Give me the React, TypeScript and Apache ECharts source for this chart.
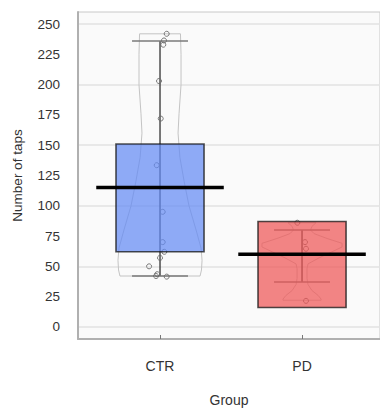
import React, { useEffect, useRef } from "react";
import * as echarts from "echarts";

// ---- data ----
const categories = ["CTR", "PD"];
const groupX = [1, 2];
const boxLow = [62, 16];
const boxHigh = [151, 87];
const means = [115, 60];
const errLow = [42, 37];
const errHigh = [236, 80];

const ctrPoints = [242, 236.5, 233, 203, 172, 133.5, 95, 70, 62, 57, 50, 43.5, 42, 41.5];
const ctrJitter = [0.047, 0.028, 0.023, -0.007, 0.005, -0.023, 0.019, 0.019, 0.030, 0, -0.077, -0.020, -0.028, 0.047];
const pdPoints = [86, 70, 64.5, 21.5];
const pdJitter = [-0.033, 0.021, 0.028, 0.028];

const ctrViolinY = [242, 225, 200, 176, 160, 140, 120, 100, 80, 65, 55, 47, 42];
const ctrViolinW = [0.144, 0.148, 0.148, 0.134, 0.127, 0.14, 0.17, 0.204, 0.254, 0.289, 0.296, 0.292, 0.282];
const pdViolinY = [86, 83, 80, 77, 73, 69, 66, 62, 57, 52, 48, 40, 35, 30, 26, 23, 22];
const pdViolinW = [0.099, 0.07, 0.06, 0.085, 0.176, 0.282, 0.282, 0.211, 0.12, 0.042, 0.035, 0.035, 0.042, 0.07, 0.113, 0.134, 0.134];

const yTickLabels = [0, 25, 50, 75, 100, 125, 150, 175, 200, 225, 250];
const yGridValues = [0, 50, 100, 150, 200, 250];

const boxFill = ["rgba(100,138,244,0.72)", "rgba(238,86,86,0.72)"];
const FONT = "Liberation Sans, Arial, sans-serif";

const BOX_HALF = 0.31;
const CAP_HALF = 0.197;
const MEAN_HALF = 0.449;

export default function App() {
  const ref = useRef<HTMLDivElement>(null);
  useEffect(() => {
    if (!ref.current) return;
    const chart = echarts.init(ref.current, null, { renderer: "svg" });
    const violins = [
      { y: ctrViolinY, w: ctrViolinW },
      { y: pdViolinY, w: pdViolinW },
    ];
    const option: any = {
      animation: false,
      backgroundColor: "#ffffff",
      textStyle: { fontFamily: FONT },
      grid: {
        left: 78,
        top: 12,
        right: 0,
        bottom: 71,
        show: true,
        outerBoundsMode: "none",
        containLabel: false,
        backgroundColor: "#fafafa",
        borderColor: "#c8c8c8",
        borderWidth: 1,
      },
      xAxis: {
        type: "value",
        min: 0.4225,
        max: 2.549,
        name: "Group",
        nameLocation: "middle",
        nameGap: 54,
        nameTextStyle: { fontSize: 14, color: "#333", fontFamily: FONT },
        axisLine: { show: true, onZero: false, lineStyle: { color: "#b0b0b0", width: 2 } },
        axisTick: { show: true, inside: true, length: 4, customValues: groupX, lineStyle: { color: "#777" } },
        axisLabel: {
          customValues: groupX,
          formatter: (v: number) => categories[groupX.indexOf(Math.round(v))] ?? "",
          fontSize: 14,
          color: "#333",
          margin: 20,
          fontFamily: FONT,
        },
        splitLine: { show: false },
      },
      yAxis: {
        type: "value",
        min: -10,
        max: 260,
        name: "Number of taps",
        nameLocation: "middle",
        nameGap: 54,
        nameTextStyle: { fontSize: 13.5, color: "#333", fontFamily: FONT },
        axisLine: { show: true, onZero: false, lineStyle: { color: "#b0b0b0", width: 2 } },
        axisTick: { show: false, customValues: yGridValues },
        axisLabel: { customValues: yTickLabels, fontSize: 13.5, color: "#333", margin: 18, fontFamily: FONT },
        splitLine: { show: true, lineStyle: { color: "#e2e2e2", width: 1.5 } },
      },
      series: [
        {
          type: "custom",
          name: "violin",
          z: 1,
          data: groupX.map((x, i) => [x, i]),
          renderItem: (params: any, api: any) => {
            const x = api.value(0);
            const v = violins[api.value(1)];
            const right = v.y.map((yy, k) => api.coord([x + v.w[k], yy]));
            const left = v.y.map((yy, k) => api.coord([x - v.w[k], yy])).reverse();
            return {
              type: "polygon",
              shape: { points: right.concat(left) },
              style: { fill: "none", stroke: "#c4c4c4", lineWidth: 1 },
            };
          },
        },
        {
          type: "custom",
          name: "errorbar",
          z: 2,
          data: groupX.map((x, i) => [x, errLow[i], errHigh[i]]),
          renderItem: (params: any, api: any) => {
            const x = api.value(0);
            const lo = api.coord([x, api.value(1)]);
            const hi = api.coord([x, api.value(2)]);
            const loL = api.coord([x - CAP_HALF, api.value(1)]);
            const loR = api.coord([x + CAP_HALF, api.value(1)]);
            const hiL = api.coord([x - CAP_HALF, api.value(2)]);
            const hiR = api.coord([x + CAP_HALF, api.value(2)]);
            return {
              type: "group",
              children: [
                { type: "line", shape: { x1: lo[0], y1: lo[1], x2: hi[0], y2: hi[1] }, style: { stroke: "#333", lineWidth: 1.3 } },
                { type: "line", shape: { x1: loL[0], y1: loL[1], x2: loR[0], y2: loR[1] }, style: { stroke: "#7a7a7a", lineWidth: 1.5 } },
                { type: "line", shape: { x1: hiL[0], y1: hiL[1], x2: hiR[0], y2: hiR[1] }, style: { stroke: "#7a7a7a", lineWidth: 1.5 } },
              ],
            };
          },
        },
        {
          type: "scatter",
          name: "points",
          z: 3,
          symbol: "circle",
          symbolSize: 5,
          itemStyle: { color: "rgba(0,0,0,0)", borderColor: "#6a6a6a", borderWidth: 0.9, opacity: 1 },
          data: ctrPoints
            .map((v, i) => [groupX[0] + ctrJitter[i], v])
            .concat(pdPoints.map((v, i) => [groupX[1] + pdJitter[i], v])),
        },
        {
          type: "custom",
          name: "box",
          z: 4,
          data: groupX.map((x, i) => [x, boxLow[i], boxHigh[i], i]),
          renderItem: (params: any, api: any) => {
            const x = api.value(0);
            const p1 = api.coord([x - BOX_HALF, api.value(2)]);
            const p2 = api.coord([x + BOX_HALF, api.value(1)]);
            return {
              type: "rect",
              shape: { x: p1[0], y: p1[1], width: p2[0] - p1[0], height: p2[1] - p1[1] },
              style: { fill: boxFill[api.value(3)], stroke: "rgba(20,20,20,0.75)", lineWidth: 1.6 },
            };
          },
        },
        {
          type: "custom",
          name: "mean",
          z: 5,
          data: groupX.map((x, i) => [x, means[i]]),
          renderItem: (params: any, api: any) => {
            const x = api.value(0);
            const a = api.coord([x - MEAN_HALF, api.value(1)]);
            const b = api.coord([x + MEAN_HALF, api.value(1)]);
            return {
              type: "line",
              shape: { x1: a[0], y1: a[1], x2: b[0], y2: b[1] },
              style: { stroke: "#000", lineWidth: 3.5 },
            };
          },
        },
      ],
    };
    chart.setOption(option);
    return () => chart.dispose();
  }, []);
  return <div ref={ref} style={{ position: "absolute", left: 0, top: 0, width: 380, height: 410 }} />;
}
